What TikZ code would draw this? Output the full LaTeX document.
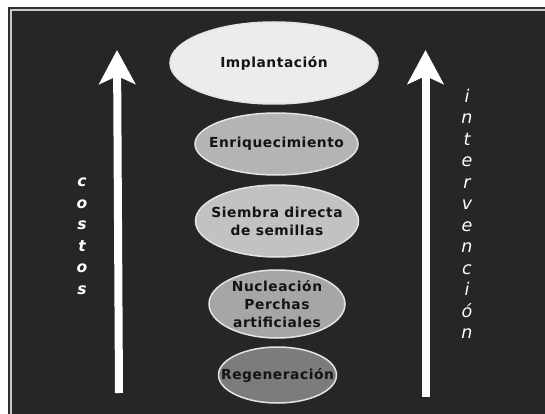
\documentclass[tikz,border=0pt]{standalone}
\usepackage{fontspec}
\setmainfont{DejaVu Sans}[BoldFont={DejaVu Sans Bold},ItalicFont={DejaVu Sans Oblique},BoldItalicFont={DejaVu Sans Bold Oblique}]
\usetikzlibrary{shapes.geometric,arrows.meta}
\definecolor{bgdark}{HTML}{262626}
\definecolor{framedark}{HTML}{303030}
\definecolor{framegray}{HTML}{C8C8C8}
\definecolor{ovalline}{HTML}{E4E4E4}
\definecolor{fillimp}{HTML}{ECECEC}
\definecolor{fillenr}{HTML}{B4B4B4}
\definecolor{fillsie}{HTML}{C2C2C2}
\definecolor{fillnuc}{HTML}{A6A6A6}
\definecolor{fillreg}{HTML}{7C7C7C}
\definecolor{txtdark}{HTML}{141414}
\begin{document}
\begin{tikzpicture}[x=1pt,y=-1pt,
  oval/.style={ellipse, draw=ovalline, line width=1.5pt, inner sep=0pt},
  txt/.style={font=\fontsize{13.8}{18}\selectfont\bfseries\addfontfeature{LetterSpace=4}, text=txtdark, align=center, inner sep=0pt},
  bigarrow/.style={draw=white, line width=8pt, -{Stealth[length=34pt,width=36pt,inset=8pt]}},
  sidebold/.style={font=\fontsize{15.5}{21.5}\selectfont\bfseries\itshape, text=white, align=center, inner sep=0pt},
  sideital/.style={font=\fontsize{17.5}{21.5}\selectfont\itshape, text=white, align=center, inner sep=0pt}
]
\useasboundingbox (0,0) rectangle (545,414);
\fill[white] (0,0) rectangle (545,414);
\fill[framedark] (8,7) rectangle (545,414);
\fill[bgdark] (12,11) rectangle (545,414);
\draw[framegray, line width=1.3pt] (11,414) |- (545,10);

% arrows
\coordinate (lb) at (119,393);
\coordinate (lt) at (117,50);
\coordinate (rb) at (425.5,397);
\coordinate (rt) at (425.5,50);
\draw[bigarrow] (lb) -- (lt);
\draw[bigarrow] (rb) -- (rt);

% ovals
\node[oval, fill=fillimp, minimum width=208pt, minimum height=82pt] (imp) at (274,63) {};
\node[txt] (impT) at (imp.center) {Implantación};
\node[oval, fill=fillenr, minimum width=163pt, minimum height=62pt] (enr) at (276.5,144) {};
\node[txt] (enrT) at (enr.center) {Enriquecimiento};
\node[oval, fill=fillsie, minimum width=163pt, minimum height=72pt] (sie) at (277,221) {};
\node[txt] (sieT) at (sie.center) {Siembra directa\\de semillas};
\node[oval, fill=fillnuc, minimum width=136pt, minimum height=68pt] (nuc) at (277,304) {};
\node[txt] (nucT) at (nuc.center) {Nucleación\\Perchas\\artificiales};
\node[oval, fill=fillreg, minimum width=118pt, minimum height=56pt] (reg) at (277.5,375) {};
\node[txt] (regT) at (reg.center) {Regeneración};

% side labels
\node[sidebold] (costos) at (82,236.5) {c\\o\\s\\t\\o\\s};
\node[sideital] (interv) at (467,214) {i\\n\\t\\e\\r\\v\\e\\n\\c\\i\\ó\\n};
\end{tikzpicture}
\end{document}
